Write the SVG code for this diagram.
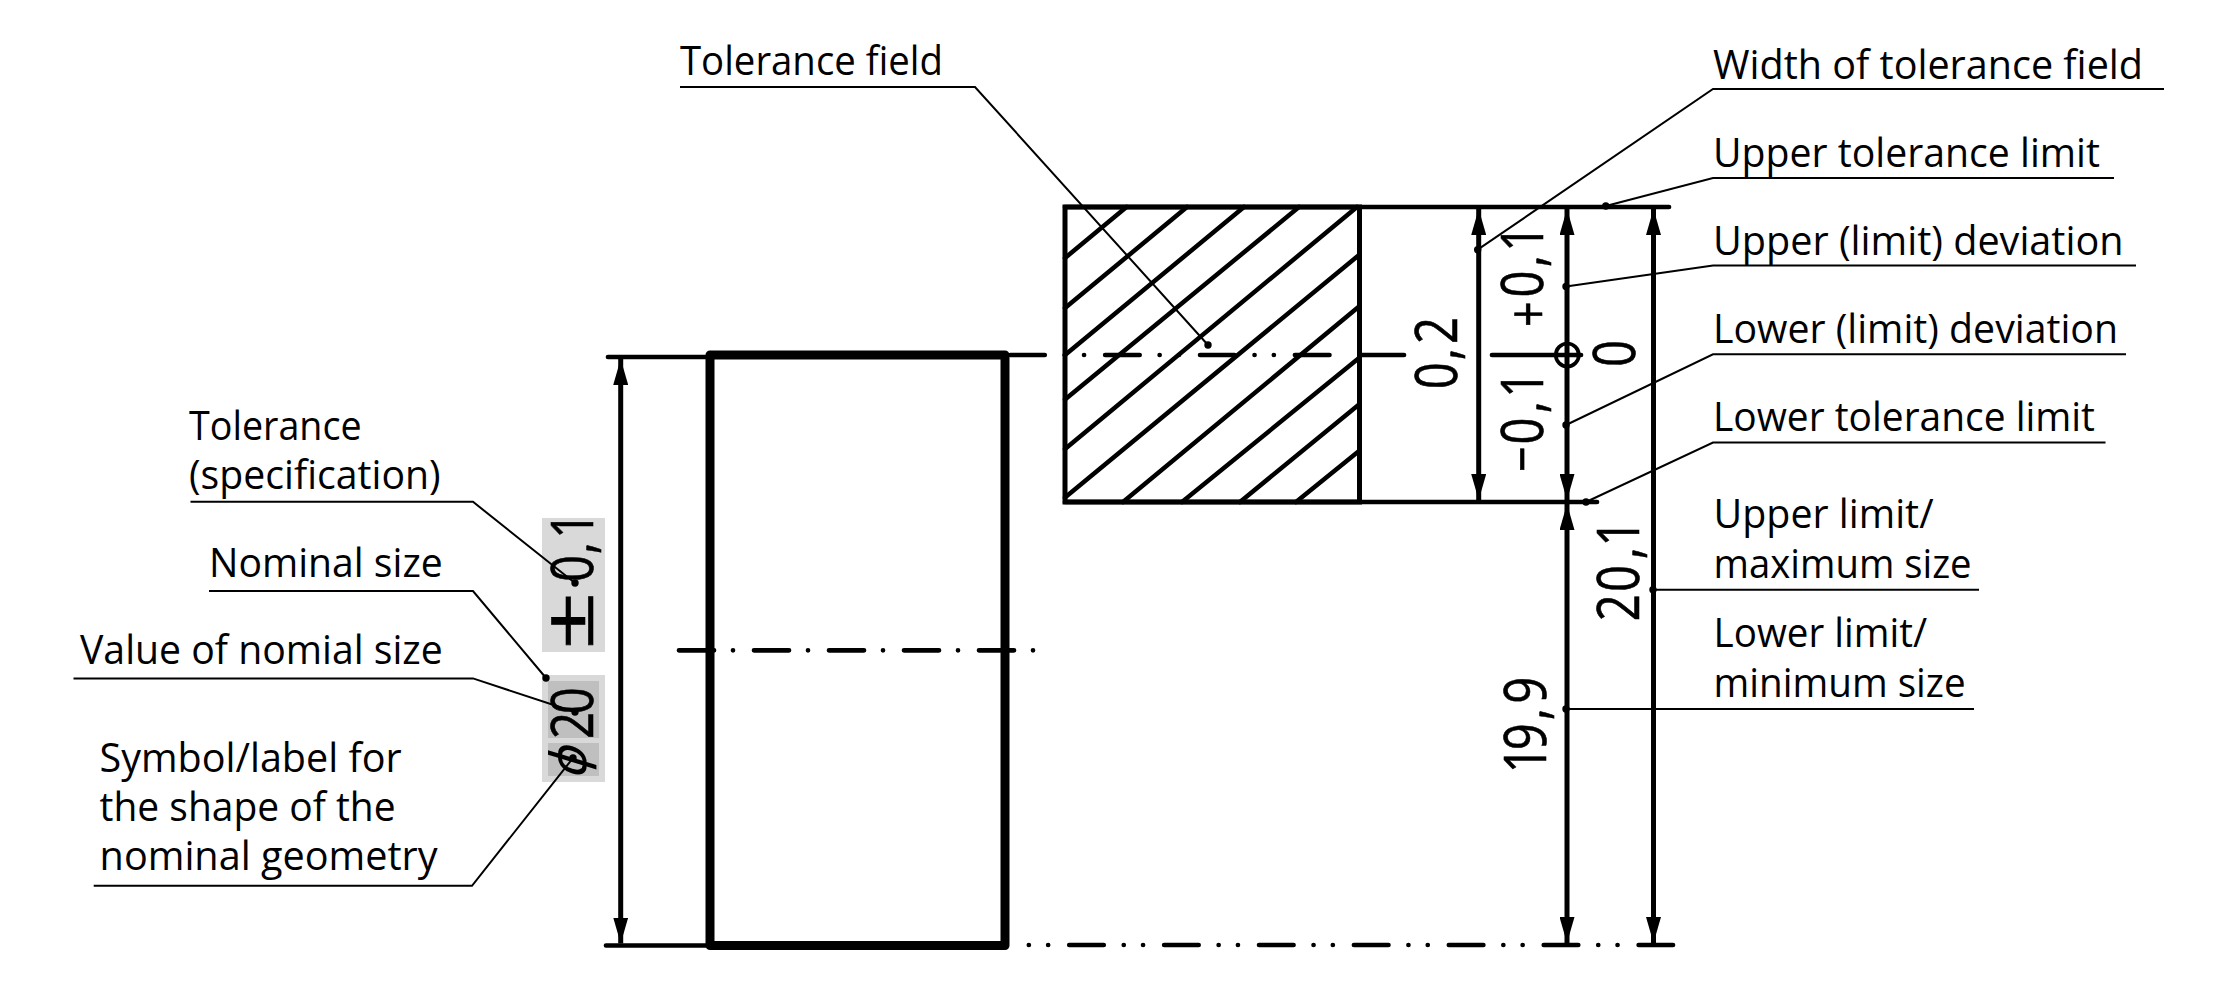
<svg xmlns="http://www.w3.org/2000/svg" width="2223" height="1004" viewBox="0 0 2223 1004">
<style>
.t{font-family:"Open Sans","Noto Sans",sans-serif;font-size:39.5px;fill:#000}
.d{font-family:"Open Sans","Noto Sans",sans-serif;font-size:59px;fill:#000;stroke:#000;stroke-width:.6}
.l{fill:none;stroke:#000;stroke-width:2}
.h{fill:none;stroke:#000;stroke-width:4.5;stroke-linecap:round}
.c{fill:none;stroke:#000;stroke-width:4.7;stroke-linecap:round;stroke-dasharray:34.5 20 0 19.3 0 21.1}
.c1{fill:none;stroke:#000;stroke-width:4.7;stroke-linecap:round;stroke-dasharray:35 19 0 21}
.a{fill:none;stroke:#000;stroke-width:5}
.e{fill:none;stroke:#000;stroke-width:4.7;stroke-linecap:round}
</style>
<defs>
<marker id="ae" markerUnits="userSpaceOnUse" markerWidth="26" markerHeight="15" refX="26" refY="7.5" orient="auto" viewBox="0 0 26 15"><path d="M0 0L26 7.5L0 15Z" fill="#000"/></marker>
<marker id="as" markerUnits="userSpaceOnUse" markerWidth="26" markerHeight="15" refX="0" refY="7.5" orient="auto" viewBox="0 0 26 15"><path d="M26 0L0 7.5L26 15Z" fill="#000"/></marker>
<circle id="dot" r="3.7" fill="#000"/>
</defs>
<g id="gray-boxes">
<rect x="542" y="518" width="63" height="134" fill="#d9d9d9"/>
<rect x="542" y="675" width="63" height="107" fill="#d9d9d9"/>
<rect x="548" y="681" width="51" height="57" fill="#bfbfbf"/>
<rect x="548" y="743" width="51" height="33" fill="#bfbfbf"/>
</g>
<g id="tolerance-field">
<rect x="1065" y="207" width="294.5" height="295" fill="none" stroke="#000" stroke-width="5"/>
<path class="h" stroke-linecap="butt" d="M1065 258L1126.5 207M1065 308L1187 207M1065 355L1244 207M1065 399.5L1299 207M1065 449L1357 207M1065 497.5L1359 255M1123 502L1359 306.5M1182 502L1359 358M1240 502L1359 404.5M1296 502L1359 451"/>
</g>
<g id="part">
<rect x="710" y="355" width="295" height="590.5" fill="none" stroke="#000" stroke-width="9" stroke-linejoin="round"/>
</g>
<g id="connectors">
<path class="e" d="M608 357H706M1065 207H1669M1065 502H1597M606 945.5H706M1360 355H1404M1492 355H1581"/>
<line class="c" x1="1010.25" y1="355" x2="1349" y2="355"/>
<line class="c1" x1="679" y1="650.3" x2="1033.5" y2="650.3"/>
<line class="c" x1="1011" y1="945" x2="1673" y2="945" stroke-dashoffset="36.65"/>
<line class="a" x1="620.7" y1="359" x2="620.7" y2="943.5" marker-start="url(#as)" marker-end="url(#ae)"/>
<line class="a" x1="1478.7" y1="209" x2="1478.7" y2="500" marker-start="url(#as)" marker-end="url(#ae)"/>
<line class="a" x1="1567" y1="209" x2="1567" y2="500" marker-start="url(#as)" marker-end="url(#ae)"/>
<line class="a" x1="1567" y1="504" x2="1567" y2="943" marker-start="url(#as)" marker-end="url(#ae)"/>
<line class="a" x1="1653.5" y1="209" x2="1653.5" y2="943" marker-start="url(#as)" marker-end="url(#ae)"/>
<circle cx="1567.3" cy="355" r="11.5" fill="none" stroke="#000" stroke-width="3.7"/>
<path class="l" d="M680 87H975L1208 345"/><use href="#dot" x="1208" y="345"/>
<path class="l" d="M2164 89H1713L1477.7 249.7"/><use href="#dot" x="1477.7" y="249.7"/>
<path class="l" d="M2114 178H1713L1605.8 206"/><use href="#dot" x="1605.8" y="206"/>
<path class="l" d="M2136 265.5H1713L1566 286.5"/><use href="#dot" x="1566" y="286.5"/>
<path class="l" d="M2126 354.3H1713L1566 425"/><use href="#dot" x="1566" y="425"/>
<path class="l" d="M2105.5 442.5H1713L1586 502"/><use href="#dot" x="1586" y="502"/>
<path class="l" d="M1979 589.7H1653"/><use href="#dot" x="1653" y="589.7"/>
<path class="l" d="M1974 709H1566"/><use href="#dot" x="1566" y="709"/>
<path class="l" d="M190.5 501.8H473L575 583"/><use href="#dot" x="575" y="583"/>
<path class="l" d="M209 591H473L546 678"/><use href="#dot" x="546" y="678"/>
<path class="l" d="M73.5 678.4H473L575 712"/><use href="#dot" x="575" y="712"/>
<path class="l" d="M93.7 885.8H472L573 758"/><use href="#dot" x="573" y="758"/>
</g>
<g id="label-tolerance-field"><text class="t" x="680" y="74.5" textLength="263" lengthAdjust="spacingAndGlyphs">Tolerance field</text></g>
<g id="label-width"><text class="t" x="1713" y="78.5" textLength="430" lengthAdjust="spacingAndGlyphs">Width of tolerance field</text></g>
<g id="label-upper-tol"><text class="t" x="1713" y="166.7" textLength="387" lengthAdjust="spacingAndGlyphs">Upper tolerance limit</text></g>
<g id="label-upper-dev"><text class="t" x="1713" y="254.8" textLength="410.5" lengthAdjust="spacingAndGlyphs">Upper (limit) deviation</text></g>
<g id="label-lower-dev"><text class="t" x="1713" y="342.6" textLength="405" lengthAdjust="spacingAndGlyphs">Lower (limit) deviation</text></g>
<g id="label-lower-tol"><text class="t" x="1713" y="431" textLength="382" lengthAdjust="spacingAndGlyphs">Lower tolerance limit</text></g>
<g id="label-upper-limit"><text class="t" x="1713.6" y="528" textLength="220" lengthAdjust="spacingAndGlyphs">Upper limit/</text><text class="t" x="1713.6" y="578" textLength="258" lengthAdjust="spacingAndGlyphs">maximum size</text></g>
<g id="label-lower-limit"><text class="t" x="1713.6" y="647" textLength="213.5" lengthAdjust="spacingAndGlyphs">Lower limit/</text><text class="t" x="1713.6" y="697" textLength="252" lengthAdjust="spacingAndGlyphs">minimum size</text></g>
<g id="label-tolerance"><text class="t" x="189" y="439.7" textLength="172.6" lengthAdjust="spacingAndGlyphs">Tolerance</text><text class="t" x="189" y="489.4" textLength="251.6" lengthAdjust="spacingAndGlyphs">(specification)</text></g>
<g id="label-nominal"><text class="t" x="209" y="577" textLength="233.7" lengthAdjust="spacingAndGlyphs">Nominal size</text></g>
<g id="label-value"><text class="t" x="80" y="663.7" textLength="362.7" lengthAdjust="spacingAndGlyphs">Value of nomial size</text></g>
<g id="label-symbol"><text class="t" x="99.6" y="772" textLength="302" lengthAdjust="spacingAndGlyphs">Symbol/label for</text><text class="t" x="99.6" y="821" textLength="296" lengthAdjust="spacingAndGlyphs">the shape of the</text><text class="t" x="99.6" y="870" textLength="338" lengthAdjust="spacingAndGlyphs">nominal geometry</text></g>
<g id="dim-values">
<text class="d" transform="translate(1457.3 389.3) rotate(-90) scale(.8 1)" x="0 36.3 56.6">0,2</text>
<text class="d" transform="translate(1542.8 327) rotate(-90) scale(.8 1)"><tspan font-size="56" style="font-size:56px" x="0" y="5">+</tspan><tspan x="36.8 74.6 94" y="0">0,1</tspan></text>
<text class="d" transform="translate(1542.8 472) rotate(-90) scale(.8 1)"><tspan font-size="56" style="font-size:56px" x="0" y="-1">−</tspan><tspan x="34.4 73.4 92.7" y="0">0,1</tspan></text>
<text class="d" transform="translate(1635 367) rotate(-90) scale(.8 1)">0</text>
<text class="d" transform="translate(1639 621.3) rotate(-90) scale(.8 1)" x="0 36.6 77.5 93.5">20,1</text>
<text class="d" transform="translate(1545.5 773.2) rotate(-90) scale(.8 1)" x="0 28.6 66.1 86.9">19,9</text>
<text class="d" style="font-size:70px" transform="translate(592.7 650) rotate(-90) scale(1.46 1)">±</text>
<text class="d" transform="translate(592.7 582) rotate(-90) scale(.8 1)" x="0 34.6 54">0,1</text>
<text class="d" style="font-family:'DejaVu Sans',sans-serif;font-size:50px;stroke-width:0" text-anchor="middle" transform="translate(586 764) rotate(-90) skewX(-17)">ϕ</text>
<text class="d" transform="translate(592.7 739) rotate(-90) scale(.8 1)" x="0 31">20</text>
</g>
</svg>
